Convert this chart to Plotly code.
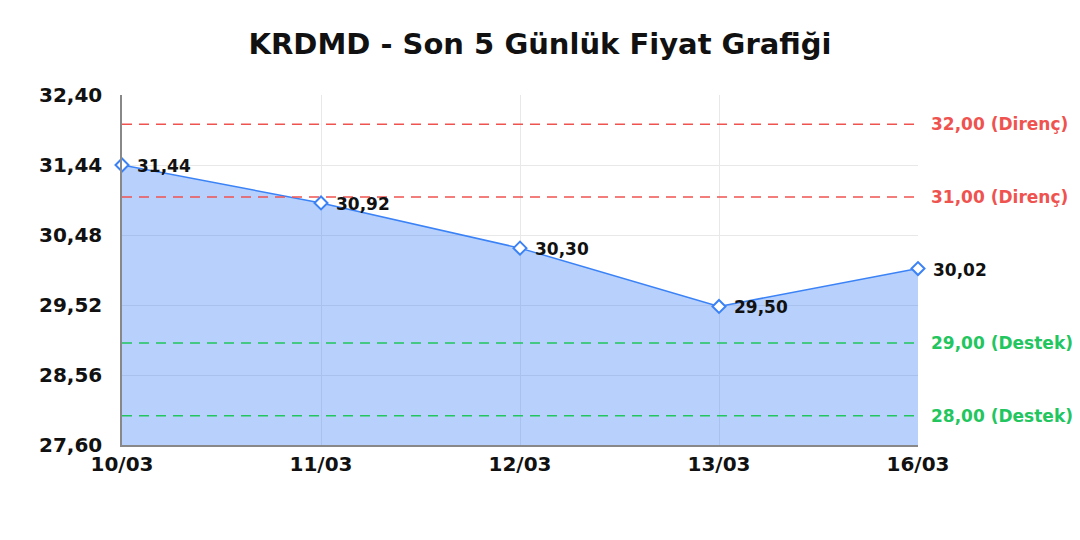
import plotly.graph_objects as go

# son 5 gunluk kapanis
dates = ["10/03", "11/03", "12/03", "13/03", "16/03"]
prices = [31.44, 30.92, 30.30, 29.50, 30.02]

y_ticks = [27.60, 28.56, 29.52, 30.48, 31.44, 32.40]

resistance_levels = [32.00, 31.00]
support_levels = [29.00, 28.00]

BLUE = "#3b82f6"
RED = "#ef5350"
GREEN = "#22c55e"
FONT = "DejaVu Sans"


def fmt_tr(value):
    return f"{value:.2f}".replace(".", ",")


fig = go.Figure()
fig.add_trace(
    go.Scatter(
        x=dates,
        y=prices,
        mode="lines+markers",
        fill="tozeroy",
        fillcolor="rgba(59,130,246,0.37)",
        line=dict(color=BLUE, width=1.5),
        marker=dict(symbol="diamond", size=10, color="white",
                    line=dict(color=BLUE, width=2)),
        cliponaxis=False,
        hoverinfo="x+y",
        showlegend=False,
    )
)

for level in resistance_levels:
    fig.add_hline(y=level, line=dict(color=RED, width=1.5, dash="10px,7px"))
    fig.add_annotation(
        x=1, xref="x domain", y=level, yref="y", xshift=11,
        text=f"<b>{fmt_tr(level)} (Direnç)</b>",
        showarrow=False, xanchor="left",
        font=dict(family=FONT, size=17, color=RED),
    )

for level in support_levels:
    fig.add_hline(y=level, line=dict(color=GREEN, width=1.5, dash="10px,7px"))
    fig.add_annotation(
        x=1, xref="x domain", y=level, yref="y", xshift=11,
        text=f"<b>{fmt_tr(level)} (Destek)</b>",
        showarrow=False, xanchor="left",
        font=dict(family=FONT, size=17, color=GREEN),
    )

for day, price in zip(dates, prices):
    fig.add_annotation(
        x=day, y=price,
        text=f"<b>{fmt_tr(price)}</b>",
        showarrow=False, xanchor="left", xshift=13,
        yshift=-1,
        font=dict(family=FONT, size=17, color="#111"),
    )

fig.update_layout(
    title=dict(
        text="<b>KRDMD - Son 5 Günlük Fiyat Grafiği</b>",
        x=0.4926, xanchor="center", y=1, yref="paper", yanchor="bottom",
        pad=dict(b=41),
        font=dict(family=FONT, size=29, color="#111"),
    ),
    width=1080,
    height=540,
    margin=dict(l=114, r=170, t=87, b=103),
    plot_bgcolor="white",
    paper_bgcolor="white",
    separators=",.",
    font=dict(family=FONT, color="#111"),
    xaxis=dict(
        type="category",
        range=[0, 4],
        showgrid=True,
        gridcolor="#e8e8e8",
        showline=True,
        linecolor="#888",
        linewidth=1.5,
        ticks="",
        tickfont=dict(family=FONT, size=20, color="#111", weight="bold"),
        ticklabelstandoff=0,
    ),
    yaxis=dict(
        range=[27.60, 32.40],
        tickvals=y_ticks,
        tickformat=".2f",
        showgrid=True,
        gridcolor="#e8e8e8",
        showline=True,
        linecolor="#888",
        linewidth=1.5,
        zeroline=False,
        ticks="",
        tickfont=dict(family=FONT, size=20, color="#111", weight="bold"),
        ticklabelstandoff=14,
    ),
)

fig.write_html("out.html")
